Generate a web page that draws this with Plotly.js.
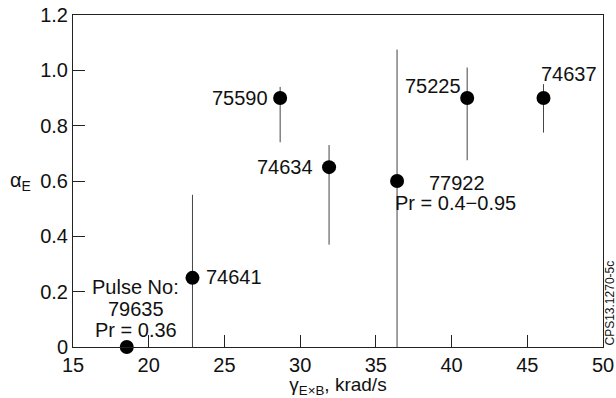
<!DOCTYPE html>
<html>
<head>
<meta charset="utf-8">
<script src="https://cdn.plot.ly/plotly-3.0.1.min.js"></script>
<style>
  html, body { margin: 0; padding: 0; background: #fff; }
  #chart { width: 616px; height: 398px; }
</style>
</head>
<body>
<div id="chart"></div>
<script>
// ---- data ----
const pulses   = ["79635", "74641", "75590", "74634", "77922", "75225", "74637"];
const gammaExB = [18.55, 22.89, 28.68, 31.91, 36.40, 41.03, 46.07];
const alphaE   = [0.00, 0.25, 0.90, 0.65, 0.60, 0.90, 0.90];
const errPlus  = [0.00, 0.30, 0.04, 0.08, 0.475, 0.11, 0.05];
const errMinus = [0.00, 0.25, 0.16, 0.28, 0.60, 0.225, 0.125];

const xTickVals = [15, 20, 25, 30, 35, 40, 45, 50];
const yTickVals = [0, 0.2, 0.4, 0.6, 0.8, 1.0, 1.2];
const yTickText = ["0", "0.2", "0.4", "0.6", "0.8", "1.0", "1.2"];

// ---- label placement (style only) ----
const labelStyle = {
  "79635": [{text: "Pulse No:", xshift: 9, yshift: 60}, {text: "79635", xshift: 9, yshift: 38}, {text: "Pr = 0.36", xshift: 9, yshift: 17}],
  "74641": [{text: "74641", xanchor: "left", xshift: 12, yshift: 1}],
  "75590": [{text: "75590", xanchor: "right", xshift: -10, yshift: 0}],
  "74634": [{text: "74634", xanchor: "right", xshift: -14, yshift: 0}],
  "77922": [{text: "77922", xanchor: "left", xshift: 30, yshift: -2}, {text: "Pr = 0.4\u22120.95", xanchor: "left", xshift: -4, yshift: -22}],
  "75225": [{text: "75225", xanchor: "right", xshift: -4, yshift: 12}],
  "74637": [{text: "74637", xanchor: "left", xshift: -4, yshift: 24}]
};

const font = "Liberation Sans, Arial, Helvetica, sans-serif";
const annotations = [];
pulses.forEach((p, i) => {
  (labelStyle[p] || []).forEach(s => {
    annotations.push({
      x: gammaExB[i], y: alphaE[i], xref: "x", yref: "y",
      text: s.text, showarrow: false,
      xanchor: s.xanchor || "center", yanchor: "middle",
      xshift: s.xshift, yshift: s.yshift,
      font: {family: font, size: 20, color: "#111"}
    });
  });
});
annotations.push({
  xref: "paper", yref: "y", x: -0.122, y: 0.6, xanchor: "left", yanchor: "middle",
  text: "\u03b1<sub>E</sub>", showarrow: false,
  font: {family: font, size: 20, color: "#111"}
});
annotations.push({
  xref: "paper", yref: "paper", x: 1.0, y: 0, xshift: 6, xanchor: "center", yanchor: "bottom",
  text: "CPS13.1270-5c", textangle: -90, showarrow: false, borderpad: 0,
  font: {family: font, size: 12, color: "#111"}
});

const trace = {
  x: gammaExB, y: alphaE, type: "scatter", mode: "markers",
  text: pulses,
  marker: {size: 14, color: "#000"},
  error_y: {type: "data", symmetric: false, array: errPlus, arrayminus: errMinus,
            width: 0, thickness: 1, color: "#444"},
  cliponaxis: false, hoverinfo: "text"
};

const layout = {
  width: 616, height: 398,
  margin: {l: 73, r: 13, t: 15, b: 51},
  paper_bgcolor: "#fff", plot_bgcolor: "#fff",
  showlegend: false,
  font: {family: font, size: 20, color: "#111"},
  xaxis: {
    range: [15, 50], tickvals: xTickVals, ticks: "inside", ticklen: 12, tickcolor: "#222",
    showline: true, linecolor: "#222", linewidth: 1, mirror: true, showgrid: false, zeroline: false,
    tickfont: {family: font, size: 20, color: "#111"},
    title: {text: "\u03b3<sub>E\u00d7B</sub>, krad/s", font: {family: font, size: 19, color: "#111"}, standoff: 14}
  },
  yaxis: {
    range: [0, 1.2], tickvals: yTickVals, ticktext: yTickText, ticks: "inside", ticklen: 12, tickcolor: "#222",
    showline: true, linecolor: "#222", linewidth: 1, mirror: true, showgrid: false, zeroline: false,
    tickfont: {family: font, size: 20, color: "#111"}
  },
  annotations: annotations
};

Plotly.newPlot("chart", [trace], layout, {displayModeBar: false, staticPlot: true});
</script>
</body>
</html>
